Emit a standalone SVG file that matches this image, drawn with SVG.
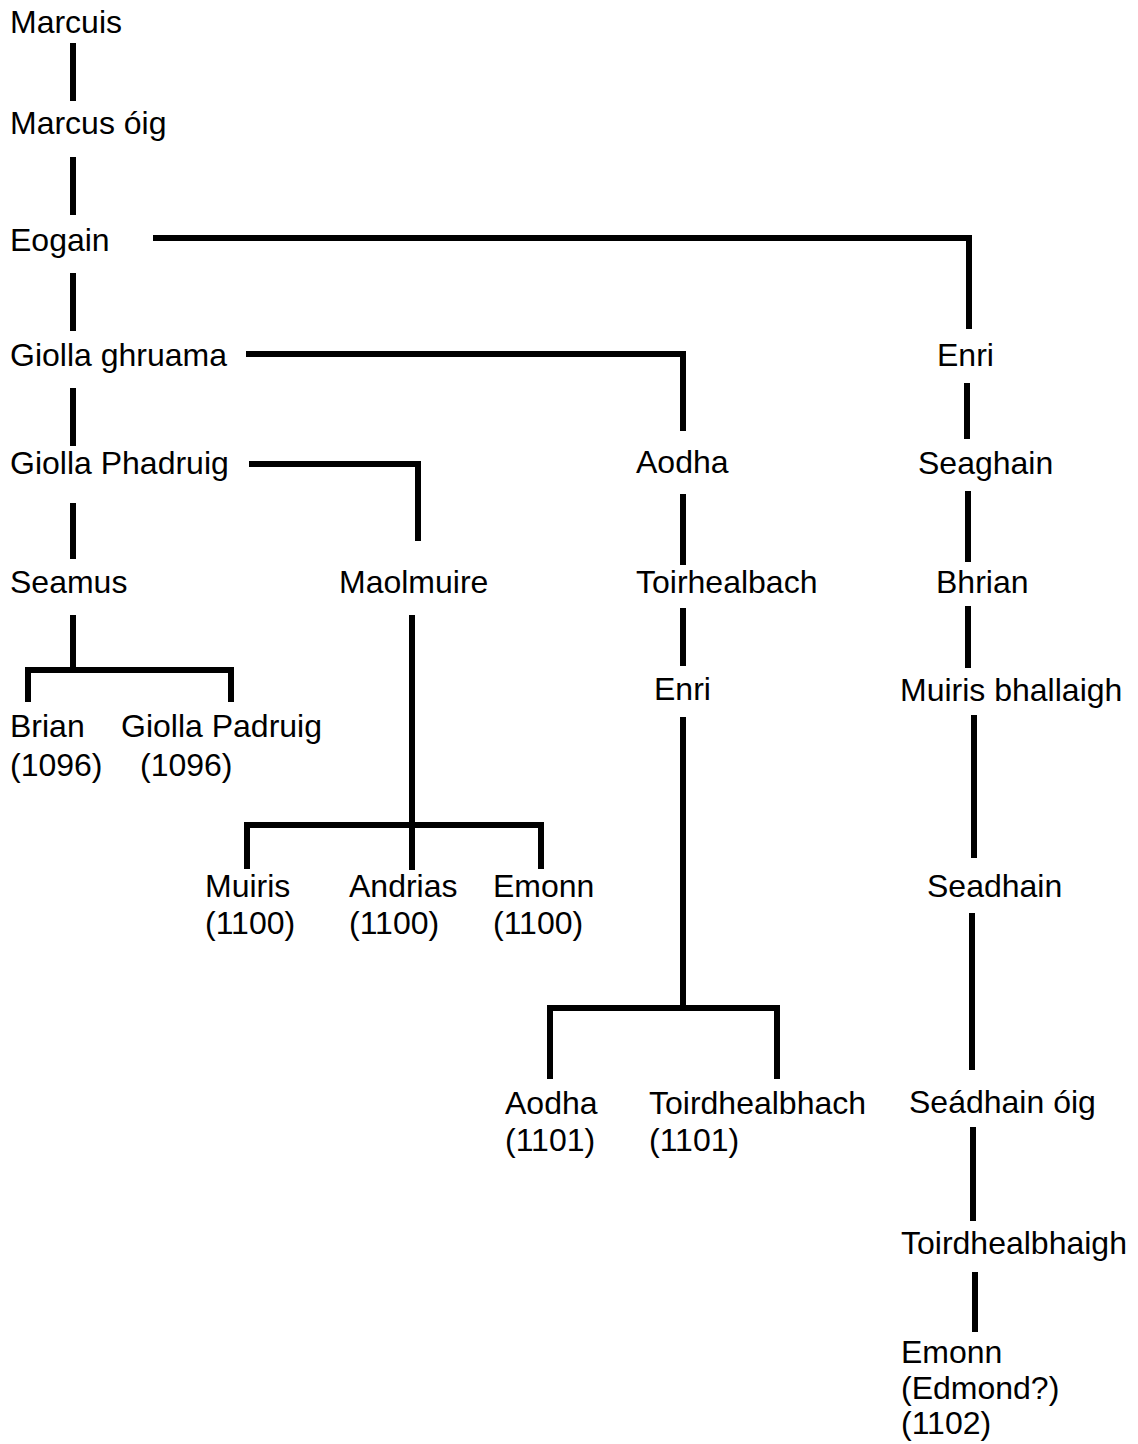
<svg xmlns="http://www.w3.org/2000/svg" width="1138" height="1444" viewBox="0 0 1138 1444">
<style>
text{font-family:"Liberation Sans",Arial,sans-serif;font-size:32px;fill:#000}
.c line,.c polyline{stroke:#000;stroke-width:6;fill:none;stroke-linecap:butt;stroke-linejoin:miter}
</style>
<rect width="1138" height="1444" fill="#fff"/>
<g class="c" id="connectors">
<line x1="73" y1="43" x2="73" y2="101"/>
<line x1="73" y1="157" x2="73" y2="215"/>
<line x1="73" y1="273" x2="73" y2="331"/>
<polyline points="153,238 969,238 969,329"/>
<line x1="73" y1="388" x2="73" y2="446"/>
<polyline points="246,354 683,354 683,431"/>
<line x1="73" y1="503" x2="73" y2="559"/>
<polyline points="249,464 418,464 418,541"/>
<line x1="967" y1="383" x2="967" y2="439"/>
<line x1="683" y1="494" x2="683" y2="565"/>
<line x1="968" y1="491" x2="968" y2="562"/>
<line x1="73" y1="615" x2="73" y2="670"/>
<polyline points="28,702 28,670 231,670 231,702"/>
<line x1="412" y1="615" x2="412" y2="870"/>
<polyline points="247,869 247,825 541,825 541,869"/>
<line x1="683" y1="608" x2="683" y2="666"/>
<line x1="968" y1="606" x2="968" y2="668"/>
<line x1="683" y1="717" x2="683" y2="1008"/>
<polyline points="550,1079 550,1008 777,1008 777,1079"/>
<line x1="974" y1="715" x2="974" y2="858"/>
<line x1="972" y1="913" x2="972" y2="1070"/>
<line x1="973" y1="1127" x2="973" y2="1221"/>
<line x1="975" y1="1272" x2="975" y2="1332"/>
</g>
<g id="n-marcuis"><text x="10" y="33">Marcuis</text></g>
<g id="n-marcus-oig"><text x="10" y="134">Marcus óig</text></g>
<g id="n-eogain"><text x="10" y="251">Eogain</text></g>
<g id="n-giolla-ghruama"><text x="10" y="366">Giolla ghruama</text></g>
<g id="n-giolla-phadruig"><text x="10" y="474">Giolla Phadruig</text></g>
<g id="n-seamus"><text x="10" y="593">Seamus</text></g>
<g id="n-maolmuire"><text x="339" y="593">Maolmuire</text></g>
<g id="n-brian"><text x="10" y="737">Brian</text><text x="10" y="776">(1096)</text></g>
<g id="n-giolla-padruig"><text x="121" y="737">Giolla Padruig</text><text x="140" y="776">(1096)</text></g>
<g id="n-muiris"><text x="205" y="897">Muiris</text><text x="205" y="934">(1100)</text></g>
<g id="n-andrias"><text x="349" y="897">Andrias</text><text x="349" y="934">(1100)</text></g>
<g id="n-emonn1"><text x="493" y="897">Emonn</text><text x="493" y="934">(1100)</text></g>
<g id="n-aodha"><text x="636" y="473">Aodha</text></g>
<g id="n-toirhealbach"><text x="636" y="593">Toirhealbach</text></g>
<g id="n-enri2"><text x="654" y="700">Enri</text></g>
<g id="n-aodha2"><text x="505" y="1114">Aodha</text><text x="505" y="1151">(1101)</text></g>
<g id="n-toirdhealbhach"><text x="649" y="1114">Toirdhealbhach</text><text x="649" y="1151">(1101)</text></g>
<g id="n-enri"><text x="937" y="366">Enri</text></g>
<g id="n-seaghain"><text x="918" y="474">Seaghain</text></g>
<g id="n-bhrian"><text x="936" y="593">Bhrian</text></g>
<g id="n-muiris-bhallaigh"><text x="900" y="701">Muiris bhallaigh</text></g>
<g id="n-seadhain"><text x="927" y="897">Seadhain</text></g>
<g id="n-seadhain-oig"><text x="909" y="1113">Seádhain óig</text></g>
<g id="n-toirdhealbhaigh"><text x="901" y="1254">Toirdhealbhaigh</text></g>
<g id="n-emonn2"><text x="901" y="1363">Emonn</text><text x="901" y="1399">(Edmond?)</text><text x="901" y="1434">(1102)</text></g>
</svg>
